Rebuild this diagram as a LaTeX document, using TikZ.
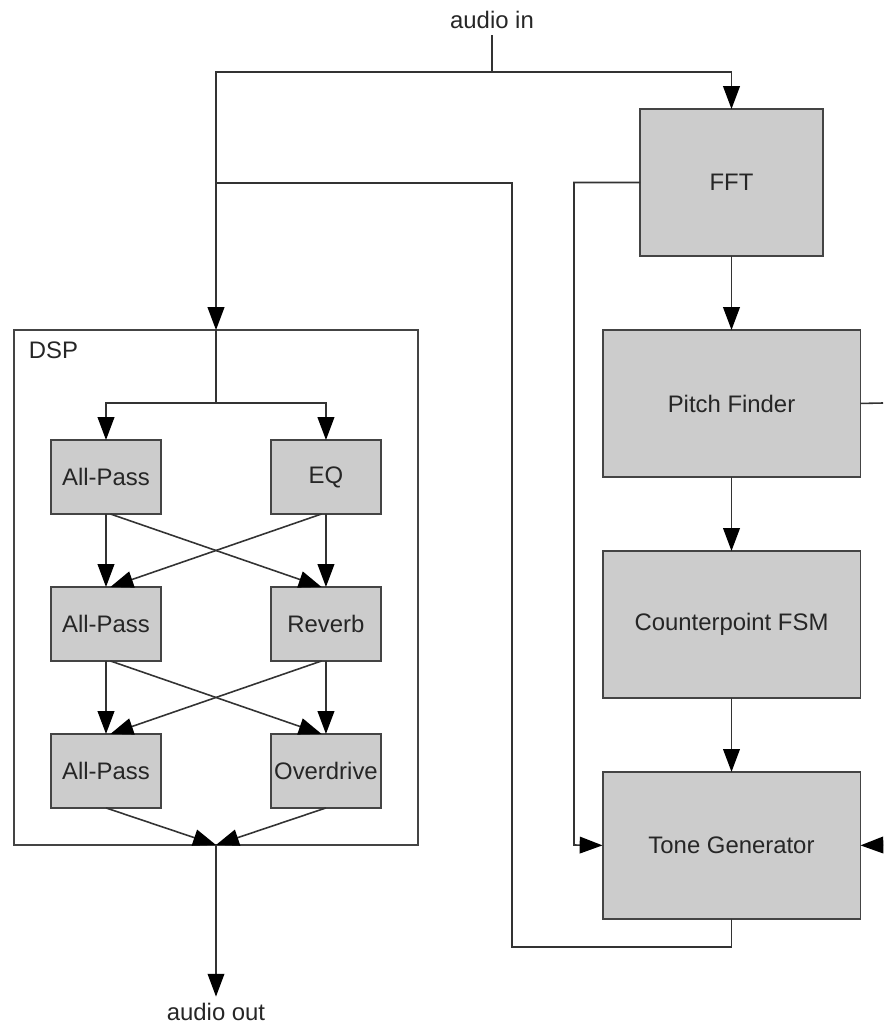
\documentclass[tikz,border=0pt]{standalone}
\usepackage{fontspec}
\setmainfont{Liberation Sans}
\usepackage{xcolor}
\usepackage{tikz}
\usetikzlibrary{arrows.meta, positioning}
\newcommand{\diafont}{\fontsize{13.6}{16}\selectfont}
\definecolor{boxgray}{HTML}{CCCCCC}
\definecolor{edgegray}{HTML}{444444}
\definecolor{linegray}{HTML}{333333}

\begin{document}
\begin{tikzpicture}[x=0.02cm, y=-0.02cm, color=linegray, line width=0.9pt]
		\tikzset{
			node distance=1.48cm and 2.2cm,
			bigbox/.style={rectangle, draw=edgegray, line width=1.1pt, fill=boxgray, align=center, font=\diafont,
			text=black!85, minimum width=5.16cm, minimum height=2.94cm, outer sep=0pt},
			smallbox/.style={rectangle, draw=edgegray, line width=1.1pt, fill=boxgray, align=center, font=\diafont,
			text=black!85, minimum width=2.2cm, minimum height=1.48cm, inner sep=1pt, outer sep=0pt},
			frame/.style={rectangle, draw=edgegray, line width=0.9pt, minimum width=8.08cm, minimum height=10.3cm, outer sep=0pt},
			plain/.style={font=\diafont, text=black!85},
			arr/.style={-{Triangle[length=13pt, width=9.5pt, color=black]}}
		}
		\useasboundingbox (0,0) rectangle (883,1024);

		\node[plain](ain) at (492,20){audio in};
		\node[plain](aout) at (216,1012){audio out};

		\node[bigbox, minimum width=3.66cm](fft) at (731.5,182.5){FFT};
		\node[bigbox, below=of fft](pitch){Pitch Finder};
		\node[bigbox, below=of pitch](counter){Counterpoint FSM};
		\node[bigbox, below=of counter](tone){Tone Generator};

		\node[frame](dsp) at (216,587.5){};
		\node[plain, anchor=north west, inner sep=0pt](dsplabel) at ([xshift=0.28cm, yshift=-0.22cm]dsp.north west){DSP};
		\node[smallbox](ap1) at (106,477){All-Pass};
		\node[smallbox, right=of ap1](eq){EQ};
		\node[smallbox, below=1.46cm of ap1](ap2){All-Pass};
		\node[smallbox, right=of ap2](reverb){Reverb};
		\node[smallbox, below=1.46cm of ap2](ap3){All-Pass};
		\node[smallbox, right=of ap3](drive){Overdrive};

		\coordinate (inj) at (492,72);
		\coordinate (mix) at (216,183);
		\coordinate (fork) at (216,403);
		\coordinate (fbturn) at (512,947);
		\coordinate (sidech) at (574,845);
		\coordinate (pout) at (883,403);
		\coordinate (tin) at (883,845);

		\draw (ain) -- (inj);
		\draw[arr] (inj) -| (fft);
		\draw[arr] (inj) -| (dsp.north);
		\draw (dsp.north) -- (fork);
		\draw[arr] (fork) -| (ap1);
		\draw[arr] (fork) -| (eq);
		\draw[arr] (ap1) -- (ap2);
		\draw[arr] (eq) -- (reverb);
		\draw[arr] ([xshift=2.5pt]ap1.south) -- ([xshift=-2.5pt]reverb.north);
		\draw[arr] ([xshift=-2.5pt]eq.south) -- ([xshift=2.5pt]ap2.north);
		\draw[arr] (ap2) -- (ap3);
		\draw[arr] (reverb) -- (drive);
		\draw[arr] ([xshift=2.5pt]ap2.south) -- ([xshift=-2.5pt]drive.north);
		\draw[arr] ([xshift=-2.5pt]reverb.south) -- ([xshift=2.5pt]ap3.north);
		\draw[arr] (ap3.south) -- (dsp.south);
		\draw[arr] (drive.south) -- (dsp.south);
		\draw[arr] (dsp.south) -- (aout);

		\draw[arr] (fft) -- (pitch);
		\draw[arr] (pitch) -- (counter);
		\draw[arr] (counter) -- (tone);
		\draw[arr] (fft.west) -| (sidech) -- (tone.west);
		\draw (tone.south) |- (fbturn) |- (mix);
		\draw (pitch.east) -- (pout);
		\draw[arr] (tin) -- (tone.east);
\end{tikzpicture}
\end{document}
